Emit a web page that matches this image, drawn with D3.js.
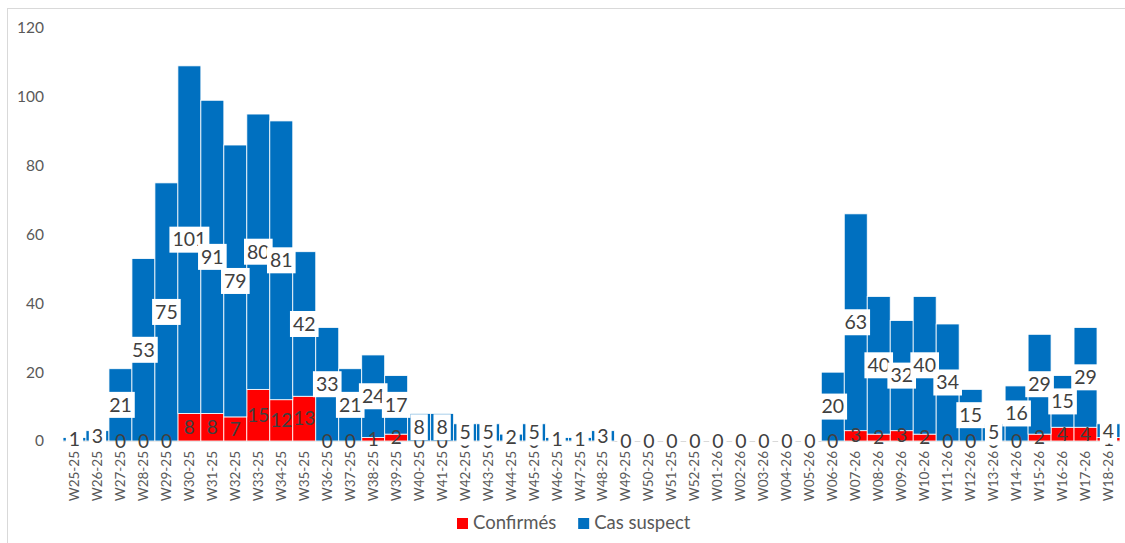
<!DOCTYPE html>
<html>
<head>
<meta charset="utf-8">
<script src="https://d3js.org/d3.v7.min.js"></script>
<style>
  body { margin: 0; background: #fff; }
  svg { font-family: Lato, "Open Sans", sans-serif; }
</style>
</head>
<body>
<svg id="chart" width="1125" height="543"></svg>
<script>
// weeks, from W25-25 to W18-26
const weeks = [
  "W25-25","W26-25","W27-25","W28-25","W29-25","W30-25","W31-25","W32-25","W33-25","W34-25",
  "W35-25","W36-25","W37-25","W38-25","W39-25","W40-25","W41-25","W42-25","W43-25","W44-25",
  "W45-25","W46-25","W47-25","W48-25","W49-25","W50-25","W51-25","W52-25","W01-26","W02-26",
  "W03-26","W04-26","W05-26","W06-26","W07-26","W08-26","W09-26","W10-26","W11-26","W12-26",
  "W13-26","W14-26","W15-26","W16-26","W17-26","W18-26"
];
const confirmes = [
  0,0,0,0,0,8,8,7,15,12,
  13,0,0,1,2,0,0,0,0,0,
  0,0,0,0,0,0,0,0,0,0,
  0,0,0,0,3,2,3,2,0,0,
  0,0,2,4,4,1
];
const suspects = [
  1,3,21,53,75,101,91,79,80,81,
  42,33,21,24,17,8,8,5,5,2,
  5,1,1,3,0,0,0,0,0,0,
  0,0,0,20,63,40,32,40,34,15,
  5,16,29,15,29,4
];
const yTicks = [0, 20, 40, 60, 80, 100, 120];
const seriesNames = ["Confirmés", "Cas suspect"];
const seriesColors = ["#ff0000", "#0070c0"];

const svg = d3.select("#chart");
const mLeft = 63, mRight = 1120, mTop = 28, mBottom = 441;

// frame
svg.append("rect")
  .attr("x", 7.5).attr("y", 8.5)
  .attr("width", 1130).attr("height", 560)
  .attr("fill", "none").attr("stroke", "#d9d9d9");

const x = d3.scaleBand().domain(weeks).range([mLeft, mRight]).padding(0);
const y = d3.scaleLinear().domain([0, 120]).range([mBottom, mTop]);

const rows = weeks.map((w, i) => ({ week: w, c: confirmes[i], s: suspects[i] }));

// y axis (labels only)
svg.append("g")
  .attr("transform", `translate(${mLeft - 19},0)`)
  .call(d3.axisLeft(y).tickValues(yTicks).tickSize(0).tickPadding(0))
  .call(g => g.select(".domain").remove())
  .selectAll("text")
  .attr("fill", "#595959")
  .style("font-family", "Lato, sans-serif")
  .style("font-size", "15.5px");

// baseline
svg.append("line")
  .attr("x1", mLeft).attr("x2", mRight)
  .attr("y1", mBottom + 0.5).attr("y2", mBottom + 0.5)
  .attr("stroke", "#d9d9d9");

// bars
const bars = svg.append("g");
bars.selectAll("rect.c")
  .data(rows).join("rect")
  .attr("class", "c")
  .attr("x", d => x(d.week)).attr("width", x.bandwidth())
  .attr("y", d => y(d.c)).attr("height", d => mBottom - y(d.c))
  .attr("fill", seriesColors[0])
  .attr("stroke", d => d.c ? "#ffffff" : "none").attr("stroke-width", 0.8);
bars.selectAll("rect.s")
  .data(rows).join("rect")
  .attr("class", "s")
  .attr("x", d => x(d.week)).attr("width", x.bandwidth())
  .attr("y", d => y(d.c + d.s)).attr("height", d => y(d.c) - y(d.c + d.s))
  .attr("fill", seriesColors[1])
  .attr("stroke", d => d.s ? "#ffffff" : "none").attr("stroke-width", 0.8);

// red labels (no box)
svg.append("g")
  .selectAll("text")
  .data(rows).join("text")
  .attr("x", d => x(d.week) + x.bandwidth() / 2)
  .attr("y", d => y(d.c / 2))
  .attr("dy", "0.35em")
  .attr("text-anchor", "middle")
  .attr("fill", "#404040")
  .style("font-size", "19px")
  .text(d => d.c);

// blue labels on white boxes
const sl = svg.append("g")
  .selectAll("g")
  .data(rows).join("g")
  .attr("transform", d => `translate(${x(d.week) + x.bandwidth() / 2},${y(d.c + d.s / 2)})`);
sl.append("text")
  .attr("dy", "0.35em")
  .attr("text-anchor", "middle")
  .attr("fill", "#404040")
  .style("font-size", "19.5px")
  .text(d => d.s)
  .each(function () {
    const b = this.getBBox();
    d3.select(this.parentNode).insert("rect", "text")
      .attr("x", b.x - 3).attr("width", b.width + 6)
      .attr("y", -13).attr("height", 26)
      .attr("fill", "#ffffff");
  });

// x labels (on top)
svg.append("g")
  .selectAll("text")
  .data(weeks).join("text")
  .attr("transform", d => `translate(${x(d) + x.bandwidth() / 2 + 4.5},${mBottom + 10}) rotate(-90)`)
  .attr("text-anchor", "end")
  .attr("fill", "#595959")
  .style("font-size", "13.5px")
  .text(d => d);

// legend
const legend = svg.append("g").attr("transform", "translate(457,523)");
let lx = 0;
seriesNames.forEach((n, i) => {
  const g = legend.append("g").attr("transform", `translate(${lx},0)`);
  g.append("rect").attr("x", 0).attr("y", -5).attr("width", 11).attr("height", 11)
    .attr("fill", seriesColors[i]);
  const t = g.append("text").attr("x", 16).attr("dy", "0.35em")
    .attr("fill", "#595959").style("font-size", "18.5px").text(n);
  lx += 16 + t.node().getComputedTextLength() + 22;
});
</script>
</body>
</html>
